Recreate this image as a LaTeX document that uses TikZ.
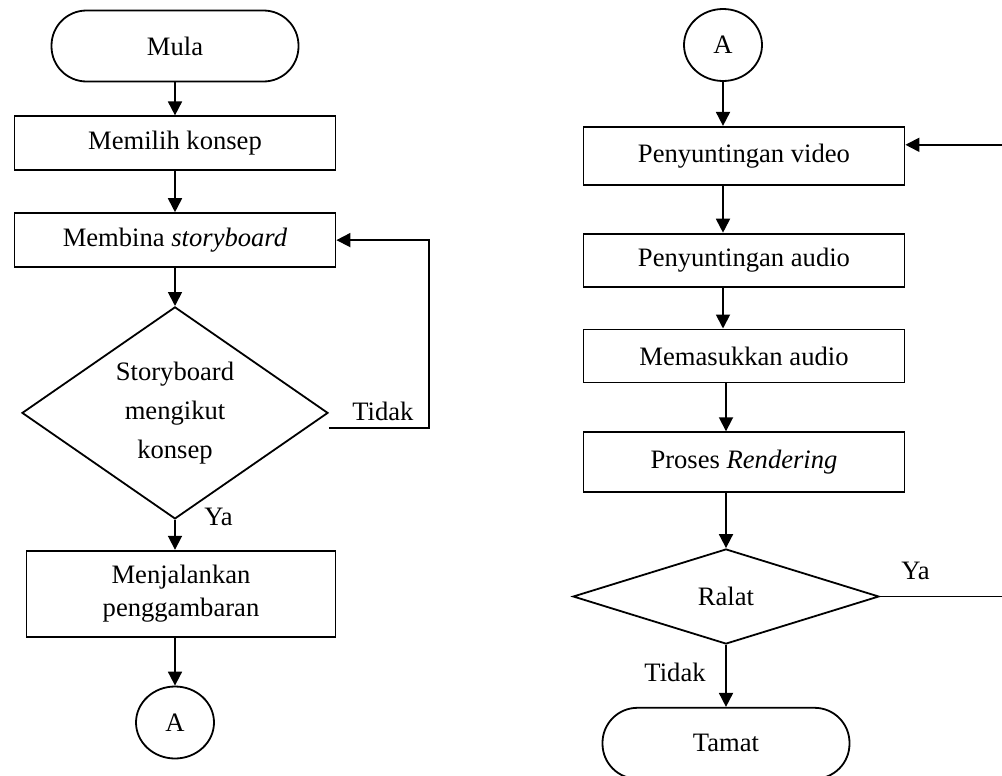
\documentclass[tikz,border=0pt]{standalone}
\usepackage{fontspec}
\setmainfont{Liberation Serif}
\usetikzlibrary{positioning,shapes.geometric,arrows.meta}

\begin{document}
\begin{tikzpicture}[
        x=0.5pt, y=-0.5pt,
        every node/.style={font=\fontsize{13.3}{16.5}\selectfont},
        terminal/.style={draw, line width=0.9pt, rounded corners=17.5pt, minimum width=123.5pt, minimum height=35.5pt},
        process/.style={draw, line width=0.9pt, minimum width=160.5pt, minimum height=27pt, align=center},
        decision/.style={draw, line width=0.9pt, diamond, inner sep=0pt, align=center},
        connector/.style={draw, line width=0.9pt, ellipse, inner sep=0pt, minimum width=39pt, minimum height=36pt},
        flow/.style={-{Triangle[width=7pt,length=7pt]}, line width=0.9pt},
        answer/.style={inner sep=0pt}
    ]
    \useasboundingbox (0,0) rectangle (1002,776);
    \clip (0,0) rectangle (1002,776);

    % Left side: concept and storyboard
    \node[terminal] (mula) at (175,46) {Mula};
    \node[process, below=16.5pt of mula] (konsep) {Memilih konsep};
    \node[process, below=20.5pt of konsep] (storyboard) {Membina \textit{storyboard}};
    \node[decision, aspect=1.44, minimum width=153pt, minimum height=106pt, below=19pt of storyboard,
        font=\fontsize{13.3}{19.5}\selectfont] (semak) {Storyboard\\mengikut\\konsep};
    \node[process, minimum width=154.5pt, minimum height=43pt, below=15pt of semak, xshift=3pt] (lukis) {Menjalankan\\penggambaran};
    \node[connector, below=24pt of lukis, xshift=-3pt] (keluarA) {A};

    \draw[flow] (mula.south) -- (konsep.north);
    \draw[flow] (konsep.south) -- (storyboard.north);
    \draw[flow] (storyboard.south) -- (semak.north);
    \draw[flow] (semak.south) -- (semak.south |- lukis.north);
    \draw[flow] (keluarA.north |- lukis.south) -- (keluarA.north);

    % Loop back when the storyboard does not follow the concept
    \coordinate (belok) at ([xshift=50pt, yshift=-7.5pt]semak.east);
    \draw[flow] ([yshift=-7.5pt]semak.east) -- (belok) |- (storyboard.east);
    \node[answer, anchor=base east] (tidakA) at ([xshift=-7.5pt, yshift=3.5pt]belok) {Tidak};
    \node[answer, anchor=base west] (yaA) at ([xshift=14.5pt, yshift=-3pt]semak.south) {Ya};

    % Right side: editing and rendering
    \node[connector] (masukA) at (723,45) {A};
    \node[process, minimum height=29pt, below=22pt of masukA, xshift=10.5pt] (video) {Penyuntingan video};
    \node[process, minimum height=26.5pt, below=23.5pt of video] (audio) {Penyuntingan audio};
    \node[process, minimum height=26.5pt, below=20.5pt of audio] (sisip) {Memasukkan audio};
    \node[process, minimum height=30pt, below=24pt of sisip] (render) {Proses \textit{Rendering}};
    \node[decision, aspect=3.2, minimum width=153pt, minimum height=47.5pt, below=27.5pt of render, xshift=-9pt] (ralat) {Ralat};
    \node[terminal, below=31pt of ralat] (tamat) {Tamat};

    \draw[flow] (masukA.south) -- (masukA.south |- video.north);
    \draw[flow] (masukA.south |- video.south) -- (masukA.south |- audio.north);
    \draw[flow] (masukA.south |- audio.south) -- (masukA.south |- sisip.north);
    \draw[flow] (ralat.north |- sisip.south) -- (ralat.north |- render.north);
    \draw[flow] (ralat.north |- render.south) -- (ralat.north);
    \draw[flow] (ralat.south) -- (tamat.north);

    % Errors go back to video editing
    \draw[flow] (ralat.east) -- ++(70pt,0) |- ([yshift=5.5pt]video.east);
    \node[answer, anchor=base west] (yaB) at ([xshift=10.5pt, yshift=8.5pt]ralat.east) {Ya};
    \node[answer, anchor=base east] (tidakB) at ([xshift=-10pt, yshift=-18.5pt]ralat.south) {Tidak};

\end{tikzpicture}
\end{document}
